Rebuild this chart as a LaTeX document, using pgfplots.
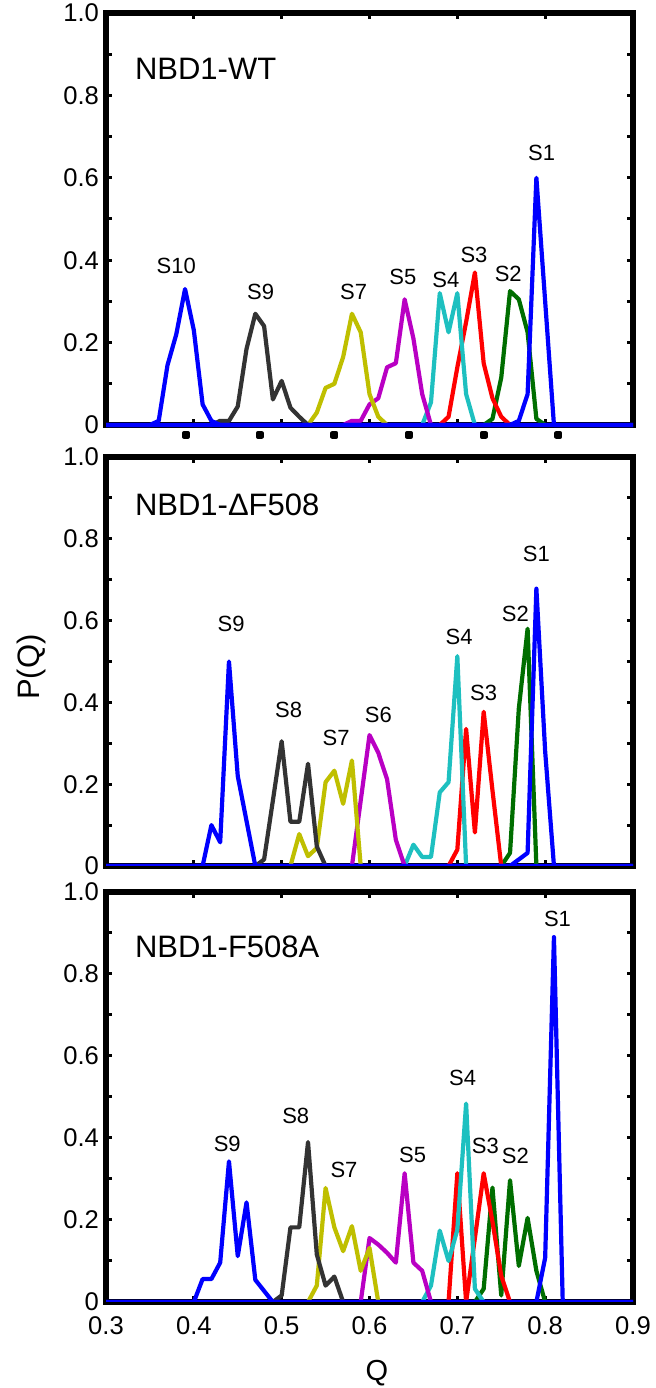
\documentclass[border=0pt]{standalone}
\usepackage{fontspec}
\setmainfont{Liberation Sans}
\usepackage{pgfplots}
\pgfplotsset{compat=1.18}

\definecolor{cBlue}{RGB}{0,0,255}
\definecolor{cGray}{RGB}{51,51,51}
\definecolor{cYel}{RGB}{191,191,0}
\definecolor{cMag}{RGB}{185,0,195}
\definecolor{cCyan}{RGB}{30,192,192}
\definecolor{cRed}{RGB}{255,0,0}
\definecolor{cGreen}{RGB}{0,110,0}

\pgfplotsset{
  panel/.style={
    scale only axis, width=263.5pt, anchor=south west,
    xmin=0.3, xmax=0.9, ymin=0, ymax=1,
    axis line style={line width=2.6pt},
    xtick={0.3,0.4,0.5,0.6,0.7,0.8,0.9},
    ytick={0,0.2,0.4,0.6,0.8,1.0},
    minor ytick={0.1,0.3,0.5,0.7,0.9},
    yticklabels={0,0.2,0.4,0.6,0.8,1.0},
    tick align=inside, tick pos=both,
    major tick length=3.2pt, minor tick length=3.2pt,
    every tick/.style={black, line width=1.5pt},
    tick label style={font=\fontsize{12.8}{12.8}\selectfont},
    xticklabel style={yshift=-4pt},
    every axis plot/.append style={line width=2.1pt, mark=none, line join=round},
  },
}
\tikzset{
  slab/.style={font=\fontsize{11}{11}\selectfont},
  plab/.style={font=\fontsize{15.5}{15.5}\selectfont, anchor=west},
}

\begin{document}
\begin{tikzpicture}
\path[use as bounding box] (0,0) rectangle (327.5pt,694pt);

% ---- NBD1-WT
\begin{axis}[panel, at={(53pt,481.5pt)}, height=206pt, xticklabels={}, clip=false]
\addplot[cGreen] coordinates {(0.73,0)(0.74,0.015)(0.75,0.115)(0.76,0.325)(0.77,0.305)(0.78,0.225)(0.79,0.015)(0.80,0)};
\addplot[cRed] coordinates {(0.68,0)(0.69,0.02)(0.70,0.14)(0.71,0.25)(0.72,0.37)(0.73,0.15)(0.74,0.065)(0.75,0.02)(0.76,0)};
\addplot[cCyan] coordinates {(0.66,0)(0.67,0.055)(0.68,0.32)(0.69,0.225)(0.70,0.32)(0.71,0.075)(0.72,0)};
\addplot[cMag] coordinates {(0.57,0)(0.58,0.01)(0.59,0.01)(0.60,0.05)(0.61,0.065)(0.62,0.14)(0.63,0.15)(0.64,0.305)(0.65,0.21)(0.66,0.075)(0.67,0)};
\addplot[cYel] coordinates {(0.53,0)(0.54,0.03)(0.55,0.09)(0.56,0.1)(0.57,0.165)(0.58,0.27)(0.59,0.225)(0.60,0.075)(0.61,0.02)(0.62,0)};
\addplot[cGray] coordinates {(0.40,0)(0.42,0)(0.43,0.01)(0.44,0.01)(0.45,0.045)(0.46,0.185)(0.47,0.27)(0.48,0.24)(0.49,0.062)(0.50,0.107)(0.51,0.042)(0.52,0.02)(0.53,0)};
\addplot[cBlue] coordinates {(0.3,0)(0.35,0)(0.36,0.01)(0.37,0.145)(0.38,0.22)(0.39,0.33)(0.40,0.23)(0.41,0.05)(0.42,0.01)(0.43,0)(0.9,0)};
\addplot[cBlue] coordinates {(0.3,0)(0.76,0)(0.77,0.01)(0.78,0.075)(0.79,0.6)(0.80,0.3)(0.81,0)(0.9,0)};
\addplot[only marks, mark=square*, mark size=0.9pt, black] coordinates {(0.391,-0.024)(0.475,-0.024)(0.56,-0.024)(0.645,-0.024)(0.73,-0.024)(0.815,-0.024)};
\node[plab] at (axis cs:0.325,0.864) {NBD1-WT};
\node[slab] at (axis cs:0.38,0.387) {S10};
\node[slab] at (axis cs:0.476,0.323) {S9};
\node[slab] at (axis cs:0.582,0.323) {S7};
\node[slab] at (axis cs:0.638,0.359) {S5};
\node[slab] at (axis cs:0.687,0.351) {S4};
\node[slab] at (axis cs:0.719,0.413) {S3};
\node[slab] at (axis cs:0.758,0.367) {S2};
\node[slab] at (axis cs:0.796,0.66) {S1};
\end{axis}

% ---- NBD1-dF508
\begin{axis}[panel, at={(53pt,261pt)}, height=204.5pt, xticklabels={}]
\addplot[cGreen] coordinates {(0.75,0)(0.76,0.032)(0.77,0.385)(0.78,0.58)(0.79,0)};
\addplot[cRed] coordinates {(0.69,0)(0.70,0.04)(0.71,0.335)(0.72,0.082)(0.73,0.377)(0.74,0.185)(0.75,0)};
\addplot[cCyan] coordinates {(0.64,0)(0.65,0.052)(0.66,0.022)(0.67,0.022)(0.68,0.18)(0.69,0.205)(0.70,0.513)(0.71,0)};
\addplot[cMag] coordinates {(0.58,0)(0.59,0.16)(0.60,0.32)(0.61,0.277)(0.62,0.212)(0.63,0.064)(0.64,0)};
\addplot[cYel] coordinates {(0.51,0)(0.52,0.078)(0.53,0.024)(0.54,0.044)(0.55,0.205)(0.56,0.233)(0.57,0.152)(0.58,0.258)(0.59,0)};
\addplot[cGray] coordinates {(0.40,0)(0.47,0)(0.48,0.016)(0.49,0.16)(0.50,0.305)(0.51,0.108)(0.52,0.108)(0.53,0.25)(0.54,0.048)(0.55,0)};
\addplot[cBlue] coordinates {(0.3,0)(0.41,0)(0.42,0.1)(0.43,0.058)(0.44,0.5)(0.45,0.22)(0.46,0.11)(0.47,0)(0.9,0)};
\addplot[cBlue] coordinates {(0.3,0)(0.76,0)(0.77,0.016)(0.78,0.032)(0.79,0.678)(0.80,0.28)(0.81,0)(0.9,0)};
\node[plab] at (axis cs:0.325,0.882) {NBD1-ΔF508};
\node[slab] at (axis cs:0.4425,0.593) {S9};
\node[slab] at (axis cs:0.508,0.381) {S8};
\node[slab] at (axis cs:0.562,0.314) {S7};
\node[slab] at (axis cs:0.61,0.369) {S6};
\node[slab] at (axis cs:0.702,0.56) {S4};
\node[slab] at (axis cs:0.73,0.423) {S3};
\node[slab] at (axis cs:0.766,0.617) {S2};
\node[slab] at (axis cs:0.79,0.762) {S1};
\end{axis}

% ---- NBD1-F508A
\begin{axis}[panel, at={(53pt,43pt)}, height=205pt,
  xticklabels={0.3,0.4,0.5,0.6,0.7,0.8,0.9}]
\addplot[cGreen] coordinates {(0.72,0)(0.73,0.032)(0.74,0.279)(0.75,0.016)(0.76,0.297)(0.77,0.088)(0.78,0.205)(0.79,0.076)(0.80,0)};
\addplot[cRed] coordinates {(0.69,0)(0.70,0.314)(0.71,0)(0.72,0.156)(0.73,0.314)(0.74,0.196)(0.75,0.064)(0.76,0)};
\addplot[cCyan] coordinates {(0.66,0)(0.67,0.04)(0.68,0.174)(0.69,0.1)(0.70,0.176)(0.71,0.484)(0.72,0.032)(0.73,0)};
\addplot[cMag] coordinates {(0.59,0)(0.60,0.156)(0.61,0.14)(0.62,0.12)(0.63,0.096)(0.64,0.314)(0.65,0.096)(0.66,0.076)(0.67,0)};
\addplot[cYel] coordinates {(0.53,0)(0.54,0.04)(0.55,0.278)(0.56,0.182)(0.57,0.124)(0.58,0.185)(0.59,0.076)(0.60,0.132)(0.61,0)};
\addplot[cGray] coordinates {(0.40,0)(0.49,0)(0.50,0.016)(0.51,0.182)(0.52,0.182)(0.53,0.39)(0.54,0.116)(0.55,0.04)(0.56,0.062)(0.57,0)};
\addplot[cBlue] coordinates {(0.3,0)(0.40,0)(0.41,0.056)(0.42,0.056)(0.43,0.096)(0.44,0.343)(0.45,0.112)(0.46,0.243)(0.47,0.054)(0.48,0.027)(0.49,0)(0.9,0)};
\addplot[cBlue] coordinates {(0.3,0)(0.79,0)(0.80,0.108)(0.81,0.89)(0.82,0)(0.9,0)};
\node[plab] at (axis cs:0.325,0.866) {NBD1-F508A};
\node[slab] at (axis cs:0.438,0.385) {S9};
\node[slab] at (axis cs:0.516,0.455) {S8};
\node[slab] at (axis cs:0.571,0.322) {S7};
\node[slab] at (axis cs:0.649,0.359) {S5};
\node[slab] at (axis cs:0.706,0.547) {S4};
\node[slab] at (axis cs:0.732,0.381) {S3};
\node[slab] at (axis cs:0.766,0.357) {S2};
\node[slab] at (axis cs:0.814,0.935) {S1};
\end{axis}

\node[rotate=90, font=\fontsize{15.5}{15.5}\selectfont] at (15.5pt,360.5pt) {P(Q)};
\node[anchor=base, font=\fontsize{14.5}{14.5}\selectfont, inner sep=0pt] at (188.5pt,4pt) {Q};
\end{tikzpicture}
\end{document}
